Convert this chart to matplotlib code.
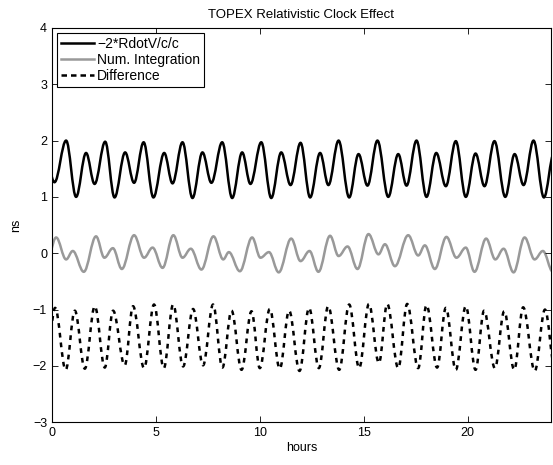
import numpy as np
import matplotlib
matplotlib.use("Agg")
import matplotlib.pyplot as plt
from matplotlib.path import Path
from matplotlib.patches import PathPatch
from matplotlib.lines import Line2D

plt.rcParams['font.family'] = ['Liberation Sans', 'DejaVu Sans']

# extrema (hours, ns), one peak/trough after the other
rdotv_t = [-0.34, 0.12, 0.68, 1.16, 1.64, 2.05, 2.56, 3.01, 3.52, 3.95, 4.41, 4.88, 5.40,
           5.80, 6.28, 6.76, 7.24, 7.67, 8.19, 8.67, 9.15, 9.55, 10.07, 10.55, 11.03,
           11.48, 11.96, 12.42, 12.90, 13.30, 13.79, 14.30, 14.75, 15.18, 15.66, 16.18,
           16.66, 17.06, 17.54, 18.02, 18.49, 18.95, 19.43, 19.91, 20.38, 20.81, 21.29,
           21.81, 22.26, 22.69, 23.17, 23.67, 24.15]
rdotv_v = [1.78, 1.26, 2.00, 1.00, 1.78, 1.23, 1.98, 0.99, 1.79, 1.25, 1.97, 0.99, 1.78,
           1.24, 1.97, 0.98, 1.79, 1.25, 1.97, 0.98, 1.79, 1.23, 1.97, 0.98, 1.79,
           1.21, 1.96, 0.99, 1.78, 1.21, 2.00, 0.99, 1.76, 1.20, 2.00, 1.00,
           1.76, 1.20, 2.00, 1.00, 1.78, 1.19, 1.99, 1.00, 1.77, 1.19, 1.99,
           1.00, 1.76, 1.21, 2.00, 0.99, 1.77]

numint_t = [-0.33, 0.20, 0.68, 1.00, 1.53, 2.12, 2.52, 2.93, 3.36, 3.95, 4.43, 4.84, 5.32,
            5.84, 6.28, 6.68, 7.19, 7.77, 8.24, 8.51, 9.04, 9.63, 10.03, 10.44, 10.91,
            11.51, 11.96, 12.39, 12.82, 13.38, 13.79, 14.22, 14.70, 15.23, 15.71, 16.02,
            16.50, 17.14, 17.62, 17.94, 18.42, 18.98, 19.46, 19.91, 20.33, 20.89, 21.33,
            21.73, 22.21, 22.74, 23.22, 23.62, 24.10]
numint_v = [-0.30, 0.28, -0.11, 0.04, -0.33, 0.30, -0.08, 0.09, -0.28, 0.32, -0.08, 0.10, -0.26,
            0.32, -0.08, 0.08, -0.29, 0.30, -0.11, 0.02, -0.32, 0.28, -0.08, 0.02, -0.34,
            0.26, -0.14, 0.04, -0.33, 0.31, -0.05, 0.12, -0.28, 0.34, -0.02, 0.16,
            -0.23, 0.32, -0.04, 0.14, -0.28, 0.29, -0.08, 0.10, -0.33, 0.26, -0.11,
            0.08, -0.34, 0.28, -0.11, 0.04, -0.33]

diff_t = [-0.30, 0.15, 0.66, 1.10, 1.58, 2.06, 2.54, 2.94, 3.50, 3.90, 4.43, 4.91, 5.38,
          5.83, 6.31, 6.79, 7.27, 7.75, 8.20, 8.64, 9.12, 9.60, 10.00, 10.48, 10.96,
          11.41, 11.91, 12.37, 12.84, 13.29, 13.82, 14.30, 14.78, 15.25, 15.73, 16.13,
          16.66, 17.09, 17.62, 18.02, 18.53, 18.95, 19.43, 19.91, 20.38, 20.79, 21.31,
          21.76, 22.24, 22.67, 23.23, 23.72, 24.20]
diff_v = [-2.05, -0.97, -2.07, -1.02, -2.05, -0.94, -2.03, -1.02, -1.99, -0.94, -2.04, -0.91, -2.04,
          -0.91, -2.01, -0.99, -1.99, -0.91, -2.03, -1.02, -2.07, -1.03, -2.04, -0.99, -2.05,
          -1.02, -2.09, -0.97, -2.04, -0.94, -2.07, -0.91, -2.04, -0.90, -1.95, -0.90,
          -2.04, -0.90, -2.04, -0.92, -2.03, -0.97, -2.07, -0.94, -2.07, -1.02, -2.04,
          -1.03, -2.07, -0.96, -2.09, -1.00, -2.05]

labels = ['\u22122*RdotV/c/c', 'Num. Integration', 'Difference']
xticks = [0, 5, 10, 15, 20]
yticks = [-3, -2, -1, 0, 1, 2, 3, 4]


def wave_path(t, v, k=0.364):
    # cubic bezier between neighbouring extrema, flat tangent at each one
    verts = [(t[0], v[0])]
    codes = [Path.MOVETO]
    for i in range(len(t) - 1):
        dt = t[i + 1] - t[i]
        verts += [(t[i] + k * dt, v[i]), (t[i + 1] - k * dt, v[i + 1]), (t[i + 1], v[i + 1])]
        codes += [Path.CURVE4] * 3
    return Path(verts, codes)


fig = plt.figure(figsize=(5.53, 4.65), dpi=100)
ax = fig.add_axes([0.094, 0.092, 0.902, 0.848])

styles = [dict(color='black', lw=1.8, ls='-'),
          dict(color='#999999', lw=1.8, ls='-'),
          dict(color='black', lw=1.8, ls=(0, (1.9, 2.0)))]
series = [(rdotv_t, rdotv_v), (numint_t, numint_v), (diff_t, diff_v)]

handles = []
for (t, v), st, lab in zip(series, styles, labels):
    patch = PathPatch(wave_path(t, v), fill=False, edgecolor=st['color'],
                      lw=st['lw'], ls=st['ls'], capstyle='butt', joinstyle='round')
    ax.add_patch(patch)
    handles.append(Line2D([], [], color=st['color'], lw=st['lw'],
                          ls='-' if st['ls'] == '-' else (0, (2.2, 1.6))))

ax.set_xlim(0, 24)
ax.set_ylim(-3, 4)
ax.set_xticks(xticks)
ax.set_yticks(yticks)
ax.tick_params(direction='in', top=True, right=True, length=4, width=0.6, labelsize=9)
for sp in ax.spines.values():
    sp.set_linewidth(0.8)

ax.set_title('TOPEX Relativistic Clock Effect', fontsize=9.5, pad=7)
ax.set_xlabel('hours', fontsize=9, labelpad=2)
ax.set_ylabel('ns', fontsize=9, labelpad=8)

leg = ax.legend(handles, labels, loc='upper left', fontsize=10, frameon=True, fancybox=False,
                framealpha=1, edgecolor='black', borderpad=0.3, labelspacing=0.15,
                handlelength=2.4, handletextpad=0.2, borderaxespad=0.35)
leg.get_frame().set_linewidth(0.8)

fig.savefig('out.png', dpi=100)
